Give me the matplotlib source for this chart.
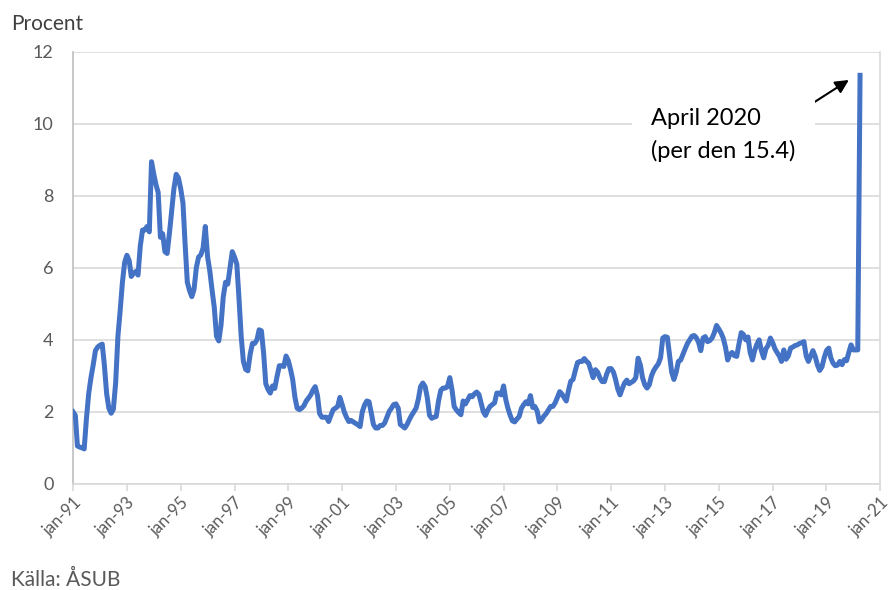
import numpy as np
import pandas as pd
import matplotlib
matplotlib.use("Agg")
import matplotlib.pyplot as plt
import matplotlib.transforms as mtransforms

plt.rcParams['font.family'] = ['Lato', 'DejaVu Sans']

# Monthly unemployment rate (procent), jan-91 .. apr-20
rate_1991_1995 = [
    2.0, 1.9, 1.05, 1.02, 1.0, 0.97, 1.8, 2.5, 2.95, 3.3, 3.7, 3.8,        # 1991
    3.85, 3.88, 3.3, 2.5, 2.1, 1.96, 2.07, 2.8, 4.1, 4.8, 5.6, 6.15,       # 1992
    6.35, 6.2, 5.76, 5.85, 5.9, 5.8, 6.6, 7.05, 7.05, 7.15, 7.0, 8.95,     # 1993
    8.6, 8.3, 8.1, 6.85, 6.95, 6.45, 6.4, 6.96, 7.6, 8.2, 8.6, 8.5,        # 1994
    8.2, 7.8, 6.7, 5.6, 5.37, 5.2, 5.4, 6.0, 6.3, 6.36, 6.55, 7.15,        # 1995
]
rate_1996_2000 = [
    6.31, 5.9, 5.4, 4.9, 4.1, 3.97, 4.4, 5.2, 5.6, 5.55, 6.0, 6.45,        # 1996
    6.3, 6.1, 5.2, 4.1, 3.4, 3.18, 3.14, 3.6, 3.9, 3.9, 4.0, 4.28,         # 1997
    4.25, 3.6, 2.78, 2.62, 2.52, 2.72, 2.65, 2.98, 3.28, 3.28, 3.26, 3.55, # 1998
    3.42, 3.17, 2.9, 2.4, 2.1, 2.06, 2.1, 2.17, 2.3, 2.38, 2.47, 2.6,      # 1999
    2.7, 2.45, 1.95, 1.85, 1.85, 1.85, 1.73, 1.9, 2.06, 2.1, 2.15, 2.4,    # 2000
]
rate_2001_2005 = [
    2.2, 1.98, 1.85, 1.73, 1.76, 1.72, 1.68, 1.64, 1.59, 2.0, 2.19, 2.3,   # 2001
    2.28, 1.96, 1.65, 1.55, 1.55, 1.62, 1.62, 1.69, 1.85, 2.01, 2.1, 2.2,  # 2002
    2.22, 2.1, 1.65, 1.6, 1.55, 1.65, 1.78, 1.9, 2.0, 2.1, 2.35, 2.7,      # 2003
    2.8, 2.7, 2.4, 1.9, 1.82, 1.85, 1.87, 2.3, 2.6, 2.66, 2.66, 2.7,       # 2004
    2.95, 2.6, 2.15, 2.05, 1.98, 1.92, 2.3, 2.22, 2.33, 2.45, 2.42, 2.5,   # 2005
]
rate_2006_2010 = [
    2.55, 2.48, 2.25, 2.0, 1.9, 2.05, 2.15, 2.2, 2.25, 2.52, 2.52, 2.47,   # 2006
    2.72, 2.33, 2.1, 1.9, 1.75, 1.72, 1.8, 1.87, 2.1, 2.2, 2.28, 2.22,     # 2007
    2.45, 2.12, 2.15, 2.02, 1.72, 1.78, 1.88, 1.95, 2.05, 2.15, 2.15, 2.25,# 2008
    2.4, 2.56, 2.5, 2.4, 2.3, 2.6, 2.85, 2.9, 3.15, 3.37, 3.4, 3.4,        # 2009
    3.48, 3.4, 3.35, 3.15, 2.95, 3.17, 3.1, 2.94, 2.84, 2.84, 3.05, 3.2,   # 2010
]
rate_2011_2015 = [
    3.2, 3.1, 2.9, 2.63, 2.47, 2.65, 2.8, 2.88, 2.78, 2.82, 2.86, 2.95,    # 2011
    3.49, 3.3, 2.95, 2.75, 2.66, 2.75, 3.0, 3.15, 3.25, 3.33, 3.5, 4.05,   # 2012
    4.09, 4.07, 3.6, 3.1, 2.9, 3.1, 3.4, 3.44, 3.6, 3.75, 3.9, 4.0,        # 2013
    4.1, 4.12, 4.06, 3.93, 3.7, 4.05, 4.09, 3.95, 3.98, 4.05, 4.2, 4.4,    # 2014
    4.3, 4.19, 4.05, 3.8, 3.44, 3.6, 3.65, 3.56, 3.54, 3.88, 4.2, 4.15,    # 2015
]
rate_2016_2020 = [
    4.0, 4.08, 3.65, 3.44, 3.7, 3.88, 4.0, 3.7, 3.5, 3.75, 3.85, 4.05,     # 2016
    3.92, 3.75, 3.65, 3.55, 3.4, 3.72, 3.46, 3.55, 3.77, 3.8, 3.84, 3.86,  # 2017
    3.9, 3.92, 3.95, 3.55, 3.4, 3.55, 3.7, 3.54, 3.3, 3.15, 3.25, 3.5,     # 2018
    3.7, 3.77, 3.5, 3.35, 3.28, 3.3, 3.4, 3.31, 3.45, 3.42, 3.65, 3.86,    # 2019
    3.72, 3.72, 3.72, 11.35,                                              # 2020
]

rate = np.array(rate_1991_1995 + rate_1996_2000 + rate_2001_2005 +
                rate_2006_2010 + rate_2011_2015 + rate_2016_2020)
dates = pd.date_range("1991-01-01", periods=len(rate), freq="MS")

tick_years = list(range(1991, 2022, 2))
tick_dates = [pd.Timestamp(f"{y}-01-01") for y in tick_years]
tick_labels = [f"jan-{y % 100:02d}" for y in tick_years]

y_ticks = [0, 2, 4, 6, 8, 10, 12]

fig = plt.figure(figsize=(8.91, 5.90), dpi=100)
ax = fig.add_axes([0.082, 0.18, 0.906, 0.732])

ax.plot(dates, rate, color="#4472C4", linewidth=3.6, solid_joinstyle="round", zorder=3)

ax.set_xlim(pd.Timestamp("1991-01-01"), pd.Timestamp("2021-01-01"))
ax.set_ylim(0, 12)
ax.set_yticks(y_ticks)
ax.set_yticklabels([str(v) for v in y_ticks])
ax.set_xticks(tick_dates)
ax.set_xticklabels(tick_labels, rotation=45, ha="right", va="top", rotation_mode="anchor")

# nudge the rotated date labels a little to the left
shift = mtransforms.ScaledTranslation(-5 / 72, 0, fig.dpi_scale_trans)
for lbl in ax.get_xticklabels():
    lbl.set_transform(lbl.get_transform() + shift)

ax.grid(axis="y", color="#d9d9d9", linewidth=1.2, zorder=0)
ax.spines["top"].set_visible(False)
ax.spines["right"].set_color("#d9d9d9")
ax.spines["left"].set_color("#bfbfbf")
ax.spines["bottom"].set_color("#d9d9d9")
for s in ["left", "bottom", "right"]:
    ax.spines[s].set_linewidth(1.2)

ax.tick_params(axis="y", length=0, pad=14, labelsize=13, labelcolor="#595959")
ax.tick_params(axis="x", length=5, width=1.2, color="#d9d9d9", pad=3,
               labelsize=12, labelcolor="#595959")

fig.text(0.012, 0.96, "Procent", fontsize=15, color="#404040", ha="left", va="center")
fig.text(0.012, 0.017, "Källa: ÅSUB", fontsize=15, color="#595959", ha="left", va="center")

ax.annotate("", xy=(pd.Timestamp("2019-11-01"), 11.22),
            xytext=(pd.Timestamp("2017-10-01"), 10.22),
            arrowprops=dict(arrowstyle="-|>", color="black", lw=1.5,
                            mutation_scale=20, shrinkA=0, shrinkB=0))
ax.text(pd.Timestamp("2012-07-01"), 9.7, "April 2020\n(per den 15.4)",
        fontsize=17, color="black", ha="left", va="center", linespacing=1.6,
        bbox=dict(facecolor="white", edgecolor="none", pad=14), zorder=4)

fig.savefig("out.png", dpi=100)
